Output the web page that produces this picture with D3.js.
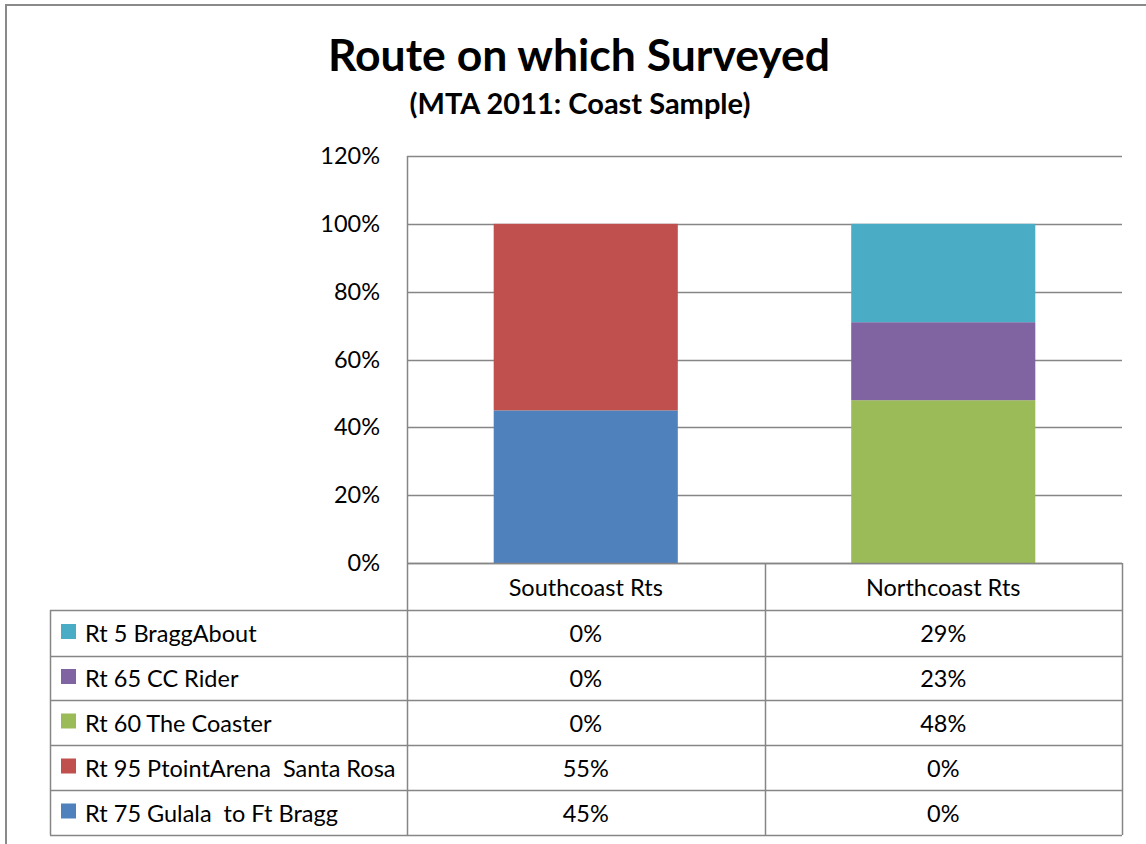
<!DOCTYPE html>
<html>
<head>
<meta charset="utf-8">
<script src="https://cdn.jsdelivr.net/npm/d3@7"></script>
<style>
  html, body { margin: 0; padding: 0; background: #fff; }
  svg { display: block; }
  text { font-family: Lato, "Open Sans", sans-serif; fill: #000; }
</style>
</head>
<body>
<svg id="chart" width="1146" height="844"></svg>
<script>
// Chart data
const categories = ["Southcoast Rts", "Northcoast Rts"];
const seriesNames = [
  "Rt 75 Gulala  to Ft Bragg",
  "Rt 95 PtointArena  Santa Rosa",
  "Rt 60 The Coaster",
  "Rt 65 CC Rider",
  "Rt 5 BraggAbout"
];
const seriesColors = ["#4F81BD", "#C0504D", "#9BBB59", "#8064A2", "#4BACC6"];
// values in percent, one array per series, ordered like categories
const rt75 = [45, 0];
const rt95 = [55, 0];
const rt60 = [0, 48];
const rt65 = [0, 23];
const rt5  = [0, 29];
const seriesValues = [rt75, rt95, rt60, rt65, rt5];
const yTicks = [0, 20, 40, 60, 80, 100, 120];

const svg = d3.select("#chart");
const gridColor = "#868686";
const bodyFont = "23.5px";

// outer chart frame (runs off the page to the right and bottom)
svg.append("rect")
  .attr("x", 6).attr("y", 5)
  .attr("width", 1160).attr("height", 860)
  .attr("fill", "none").attr("stroke", "#8a8a8a").attr("stroke-width", 2);

// titles
svg.append("text")
  .attr("x", 579).attr("y", 71)
  .attr("text-anchor", "middle")
  .style("font-size", "44.5px").style("font-weight", "bold")
  .text("Route on which Surveyed");
svg.append("text")
  .attr("x", 580).attr("y", 114)
  .attr("text-anchor", "middle")
  .style("font-size", "29px").style("font-weight", "bold")
  .text("(MTA 2011: Coast Sample)");

// plot area geometry
const plot = { left: 407, right: 1122, top: 156, bottom: 563 };

const x = d3.scaleBand()
  .domain(categories)
  .range([plot.left, plot.right])
  .paddingInner(0)
  .paddingOuter(0);

const y = d3.scaleLinear()
  .domain([0, 120])
  .range([plot.bottom, plot.top]);

// horizontal gridlines
svg.append("g")
  .selectAll("line")
  .data(yTicks)
  .join("line")
  .attr("x1", plot.left).attr("x2", plot.right)
  .attr("y1", d => Math.round(y(d)) + 0.5).attr("y2", d => Math.round(y(d)) + 0.5)
  .attr("stroke", gridColor).attr("stroke-width", 1.5);

// y axis line
svg.append("line")
  .attr("x1", plot.left + 0.5).attr("x2", plot.left + 0.5)
  .attr("y1", plot.top).attr("y2", plot.bottom)
  .attr("stroke", gridColor).attr("stroke-width", 1.5);

// y tick labels
const yAxis = d3.axisLeft(y)
  .tickValues(yTicks)
  .tickFormat(d => d + "%")
  .tickSize(0)
  .tickPadding(27);
const yg = svg.append("g")
  .attr("transform", `translate(${plot.left},0)`)
  .call(yAxis);
yg.select(".domain").remove();
yg.selectAll("text")
  .style("font-family", "Lato, 'Open Sans', sans-serif")
  .style("font-size", bodyFont)
  .attr("fill", "#000");

// stacked bars
const stackData = categories.map((c, i) => {
  const row = { category: c };
  seriesNames.forEach((s, j) => { row[s] = seriesValues[j][i]; });
  return row;
});
const stacked = d3.stack().keys(seriesNames)(stackData);
const barWidth = x.bandwidth() * 0.515;

svg.append("g")
  .selectAll("g")
  .data(stacked)
  .join("g")
  .attr("fill", (d, i) => seriesColors[i])
  .selectAll("rect")
  .data(d => d)
  .join("rect")
  .attr("x", d => x(d.data.category) + (x.bandwidth() - barWidth) / 2)
  .attr("width", barWidth)
  .attr("y", d => y(d[1]))
  .attr("height", d => y(d[0]) - y(d[1]));

// data table below the plot
const table = { left: 50, headerTop: 563, headerBottom: 610 };
const rowEdges = [610, 656, 700, 745, 790, 835];
const tableRows = seriesNames.slice().reverse(); // top row is last series
const rowColors = seriesColors.slice().reverse();
const rowValues = seriesValues.slice().reverse();

const tg = svg.append("g");
const lineAttr = sel => sel.attr("stroke", gridColor).attr("stroke-width", 1.5);

// header row top border (category cells only)
tg.append("line").call(lineAttr)
  .attr("x1", plot.left).attr("x2", plot.right)
  .attr("y1", table.headerTop + 0.5).attr("y2", table.headerTop + 0.5);
// horizontal row lines
rowEdges.forEach(yy => {
  tg.append("line").call(lineAttr)
    .attr("x1", table.left).attr("x2", plot.right)
    .attr("y1", yy + 0.5).attr("y2", yy + 0.5);
});
// vertical lines
tg.append("line").call(lineAttr)
  .attr("x1", table.left + 0.5).attr("x2", table.left + 0.5)
  .attr("y1", rowEdges[0]).attr("y2", rowEdges[rowEdges.length - 1]);
[plot.left, x(categories[1]), plot.right].forEach(xx => {
  tg.append("line").call(lineAttr)
    .attr("x1", Math.round(xx) + 0.5).attr("x2", Math.round(xx) + 0.5)
    .attr("y1", table.headerTop).attr("y2", rowEdges[rowEdges.length - 1]);
});

// category header labels
categories.forEach(c => {
  tg.append("text")
    .attr("x", x(c) + x.bandwidth() / 2)
    .attr("y", (table.headerTop + table.headerBottom) / 2 + 9)
    .attr("text-anchor", "middle")
    .style("font-size", bodyFont)
    .text(c);
});

// legend cells and values
tableRows.forEach((name, r) => {
  const cy = (rowEdges[r] + rowEdges[r + 1]) / 2;
  tg.append("rect")
    .attr("x", 61).attr("y", cy - 9)
    .attr("width", 15).attr("height", 15)
    .attr("fill", rowColors[r]);
  tg.append("text")
    .attr("x", 85).attr("y", cy + 9)
    .style("font-size", bodyFont)
    .attr("xml:space", "preserve")
    .text(name);
  categories.forEach((c, i) => {
    tg.append("text")
      .attr("x", x(c) + x.bandwidth() / 2)
      .attr("y", cy + 9)
      .attr("text-anchor", "middle")
      .style("font-size", bodyFont)
      .text(rowValues[r][i] + "%");
  });
});
</script>
</body>
</html>
